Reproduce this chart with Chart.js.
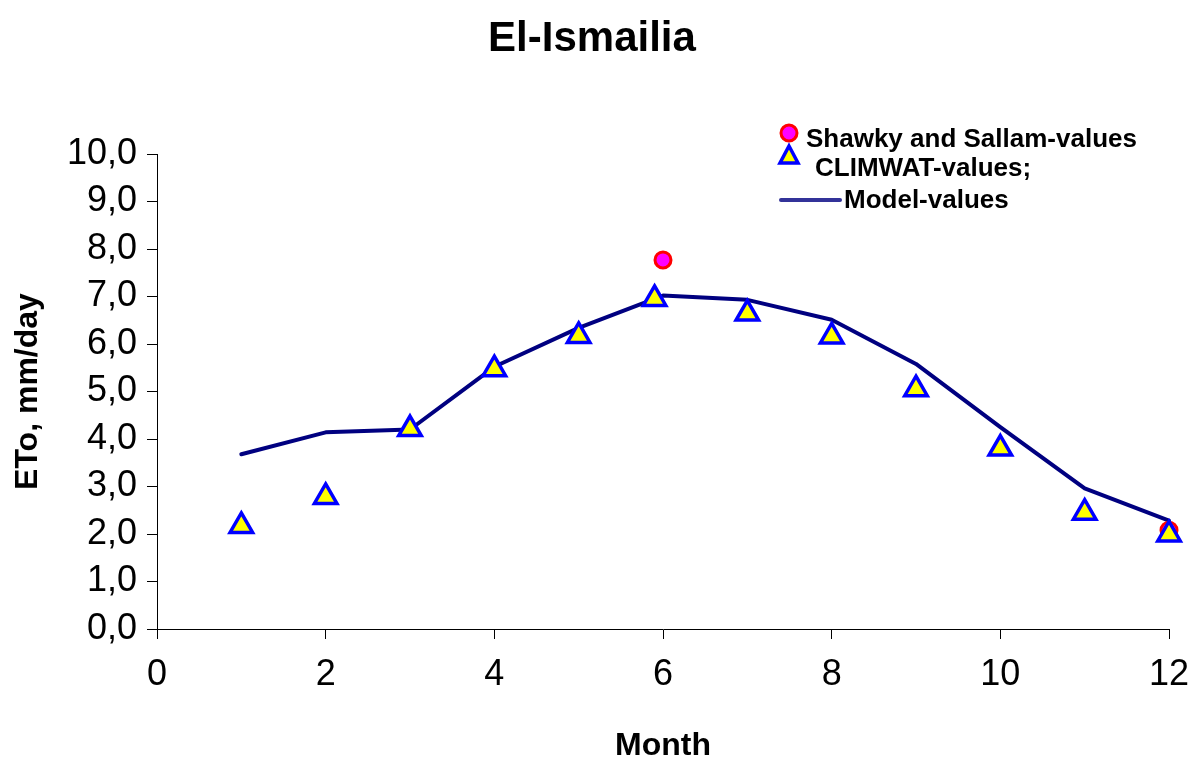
<!DOCTYPE html>
<html>
<head>
<meta charset="utf-8">
<script src="https://cdn.jsdelivr.net/npm/chart.js@4.4.0/dist/chart.umd.min.js"></script>
<style>
    body { margin: 0; background: #fff; font-family: "Liberation Sans", Arial, sans-serif; overflow: hidden; }
    #wrap { position: relative; width: 1193px; height: 757px; overflow: hidden; }
    #titulo { position: absolute; left: 0; width: 1184px; top: 13px; text-align: center; font-size: 42px; font-weight: bold; }
    .leyenda { position: absolute; font-size: 26px; font-weight: bold; white-space: nowrap; line-height: 28px; }
</style>
</head>
<body>
<div id="wrap">
    <canvas id="grafico" width="1193" height="765"></canvas>
    <div id="titulo">El-Ismailia</div>
    <!-- leyenda manual, arriba a la derecha -->
    <div class="leyenda" style="left:806px; top:124px;">Shawky and Sallam-values</div>
    <div class="leyenda" style="left:815px; top:153px;">CLIMWAT-values;</div>
    <div class="leyenda" style="left:844px; top:185px;">Model-values</div>
    <svg style="position:absolute; left:770px; top:118px;" width="80" height="95">
        <circle cx="19" cy="15" r="8" fill="#ff00ff" stroke="#ff0000" stroke-width="3"/>
        <polygon points="19,28 28,45 10,45" fill="#ffff00" stroke="#0000ff" stroke-width="3.5"/>
        <line x1="11" y1="82" x2="70" y2="82" stroke="#333399" stroke-width="4" stroke-linecap="round"/>
    </svg>
</div>
<script>
// Datos
var meses = [1, 2, 3, 4, 5, 6, 7, 8, 9, 10, 11, 12];
var valoresModelo = [3.68, 4.14, 4.2, 5.52, 6.34, 7.02, 6.93, 6.51, 5.58, 4.25, 2.96, 2.28];

var mesesClimwat = [1, 2, 3, 4, 5, 5.9, 7, 8, 9, 10, 11, 12];
var valoresClimwat = [2.17, 2.78, 4.21, 5.47, 6.17, 6.95, 6.64, 6.16, 5.05, 3.8, 2.45, 1.99];

var mesesShawky = [6, 12];
var valoresShawky = [7.77, 2.08];

function puntos(xs, ys) {
    return xs.map(function (x, i) { return { x: x, y: ys[i] }; });
}

var fuenteTicks = { family: '"Liberation Sans", Arial, sans-serif', size: 36 };
var fuenteTitulo = { family: '"Liberation Sans", Arial, sans-serif', size: 32, weight: 'bold' };

var ctx = document.getElementById('grafico').getContext('2d');
var grafico = new Chart(ctx, {
    type: 'scatter',
    data: {
        datasets: [{
            label: 'CLIMWAT-values;',
            data: puntos(mesesClimwat, valoresClimwat),
            pointStyle: 'triangle',
            pointRadius: 13,
            pointBackgroundColor: '#ffff00',
            pointBorderColor: '#0000ff',
            pointBorderWidth: 3.5,
            showLine: false,
            clip: false
        }, {
            label: 'Shawky and Sallam-values',
            data: puntos(mesesShawky, valoresShawky),
            pointStyle: 'circle',
            pointRadius: 8,
            pointBackgroundColor: '#ff00ff',
            pointBorderColor: '#ff0000',
            pointBorderWidth: 3,
            showLine: false,
            clip: false
        }, {
            label: 'Model-values',
            data: puntos(meses, valoresModelo),
            showLine: true,
            borderColor: '#000080',
            borderWidth: 4,
            borderCapStyle: 'round',
            borderJoinStyle: 'round',
            pointRadius: 0,
            tension: 0,
            clip: false
        }]
    },
    options: {
        responsive: false,
        animation: false,
        layout: { padding: { left: 0, top: 154, right: 24, bottom: 0 } },
        plugins: {
            legend: { display: false },
            tooltip: { enabled: false },
            title: { display: false }
        },
        scales: {
            x: {
                type: 'linear',
                min: 0,
                max: 12,
                afterFit: function (s) {
                    s.height = 136;
                    s.paddingLeft = 0;
                    s.paddingRight = 0;
                },
                ticks: { stepSize: 2, color: '#000', font: fuenteTicks, padding: 14 },
                grid: { drawOnChartArea: false, drawTicks: true, tickLength: 10, color: '#000' },
                border: { color: '#000', width: 1 },
                title: { display: true, text: 'Month', color: '#000', font: fuenteTitulo, padding: { top: 2, bottom: 0 } }
            },
            y: {
                min: 0,
                max: 10,
                afterFit: function (s) { s.width = 157; },
                ticks: {
                    stepSize: 1,
                    color: '#000',
                    font: fuenteTicks,
                    padding: 10,
                    callback: function (v) { return v.toFixed(1).replace('.', ','); }
                },
                grid: { drawOnChartArea: false, drawTicks: true, tickLength: 10, color: '#000' },
                border: { color: '#000', width: 1 },
                title: { display: true, text: 'ETo, mm/day', color: '#000', font: fuenteTitulo, padding: { top: 9, bottom: 0 } }
            }
        }
    }
});
</script>
</body>
</html>
